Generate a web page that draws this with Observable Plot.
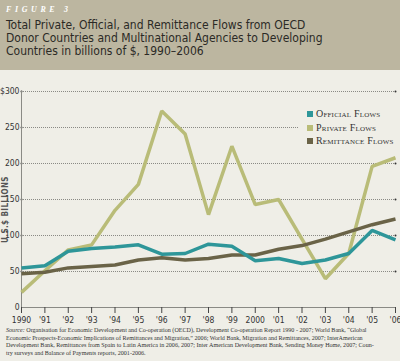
<!DOCTYPE html>
<html>
<head>
<meta charset="utf-8">
<script src="https://cdn.jsdelivr.net/npm/d3@7"></script>
<script src="https://cdn.jsdelivr.net/npm/@observablehq/plot@0.6"></script>
<style>
  html, body { margin: 0; padding: 0; }
  body { width: 400px; height: 361px; background: #efeee7; position: relative; overflow: hidden; }
  #header { position: absolute; left: 0; top: 0; width: 400px; height: 70px; background: #bcb6a0; }
  #fig { position: absolute; left: 6px; top: 5px; font: italic bold 8px "Liberation Serif", serif; letter-spacing: 3.6px; color: #fff; }
  #title { position: absolute; left: 6px; top: 19px; font: 12px/13px "Liberation Sans Narrow", "DejaVu Sans Condensed", sans-serif; color: #2b2a26; }
  #chart { position: absolute; left: 0; top: 80px; }
  #ylab { position: absolute; left: -35px; top: 205px; width: 80px; text-align: center; white-space: nowrap; transform: rotate(-90deg); font: bold 8px "Liberation Sans Narrow", "DejaVu Sans Condensed", sans-serif; letter-spacing: 0.4px; color: #555; }
  #legend { position: absolute; left: 298px; top: 106px; width: 102px; height: 44px; background: #efeee7; }
  .item { position: absolute; left: 9px; font: 10px "Liberation Serif", serif; font-variant: small-caps; letter-spacing: 0.2px; color: #333; white-space: nowrap; }
  .sw { display: inline-block; width: 6px; height: 6px; margin-right: 3px; }
  #source { position: absolute; left: 6px; top: 327px; width: 392px; font: 6.1px/7.7px "Liberation Serif", serif; color: #333; white-space: nowrap; }
</style>
</head>
<body>
<div id="header">
  <div id="fig">FIGURE 3</div>
  <div id="title">Total Private, Official, and Remittance Flows from OECD<br>Donor Countries and Multinational Agencies to Developing<br>Countries in billions of $, 1990–2006</div>
</div>
<div id="chart"></div>
<div id="ylab">U.S.$ BILLIONS</div>
<div id="legend"></div>
<div id="source"><i>Source:</i> Organisation for Economic Development and Co-operation (OECD), Development Co-operation Report 1990 - 2007; World Bank, “Global<br>Economic Prospects-Economic Implications of Remittances and Migration,” 2006; World Bank, Migration and Remittances, 2007; InterAmerican<br>Development Bank, Remittances from Spain to Latin America in 2006, 2007; Inter American Development Bank, Sending Money Home, 2007; Coun-<br>try surveys and Balance of Payments reports, 2001-2006.</div>
<script>
const years = [1990, 1991, 1992, 1993, 1994, 1995, 1996, 1997, 1998, 1999, 2000, 2001, 2002, 2003, 2004, 2005, 2006];
const yearLabels = ["1990", "'91", "'92", "'93", "'94", "'95", "'96", "'97", "'98", "'99", "2000", "'01", "'02", "'03", "'04", "'05", "'06"];
const official = [55, 58, 78, 82, 84, 87, 74, 75, 88, 85, 65, 68, 61, 66, 75, 107, 94];
const privateFlows = [21, 51, 80, 87, 135, 171, 273, 241, 129, 224, 143, 150, 95, 40, 75, 196, 208];
const remittance = [47, 49, 55, 57, 59, 66, 69, 66, 68, 73, 73, 81, 86, 95, 105, 115, 123];
const seriesNames = ["Official Flows", "Private Flows", "Remittance Flows"];
const seriesColors = ["#2e9699", "#b9bc78", "#6a6347"];
const yTicks = [0, 50, 100, 150, 200, 250, 300];

const rows = [];
const drawOrder = [[privateFlows, 1], [remittance, 2], [official, 0]];
for (const [vals, si] of drawOrder) {
  years.forEach((yr, i) => rows.push({year: yr, value: vals[i], series: seriesNames[si]}));
}
const grid = yTicks.filter(d => d > 0);
const ends = [];
grid.forEach(v => { ends.push({x: years[0], y: v}); ends.push({x: years[years.length - 1], y: v}); });

const chart = Plot.plot({
  width: 400,
  height: 246,
  marginLeft: 21,
  marginRight: 5,
  marginTop: 11,
  marginBottom: 19,
  style: {background: "transparent", fontFamily: "'Liberation Sans Narrow', 'DejaVu Sans Condensed', sans-serif", fontSize: "8.5px", color: "#333", overflow: "visible"},
  x: {domain: [years[0], years[years.length - 1]]},
  y: {domain: [0, 300]},
  color: {domain: seriesNames, range: seriesColors},
  marks: [
    Plot.ruleY(grid, {stroke: "#8a8a85", strokeDasharray: "1,1", strokeWidth: 1}),
    Plot.dot(ends, {x: "x", y: "y", r: 1, fill: "#333", stroke: null}),
    Plot.ruleX([years[0]], {y1: 0, y2: 300, stroke: "#8a8a85", strokeWidth: 1}),
    Plot.ruleY([0], {stroke: "#8a8a85", strokeWidth: 1}),
    Plot.axisX({ticks: years, tickSize: 6, tickPadding: 3, tickFormat: d => yearLabels[years.indexOf(d)], stroke: "#444", label: null}),
    Plot.axisY({ticks: yTicks, tickSize: 0, tickPadding: 2, tickFormat: d => d === 300 ? "$300" : String(d), label: null}),
    Plot.line(rows, {x: "year", y: "value", z: "series", stroke: "series", strokeWidth: 3.5, strokeLinejoin: "miter", strokeLinecap: "butt"})
  ]
});
document.getElementById("chart").appendChild(chart);

const legend = document.getElementById("legend");
seriesNames.forEach((name, i) => {
  const d = document.createElement("div");
  d.className = "item";
  d.style.top = (2 + i * 13.5) + "px";
  const s = document.createElement("span");
  s.className = "sw";
  s.style.background = seriesColors[i];
  d.appendChild(s);
  d.appendChild(document.createTextNode(name));
  legend.appendChild(d);
});
</script>
</body>
</html>
